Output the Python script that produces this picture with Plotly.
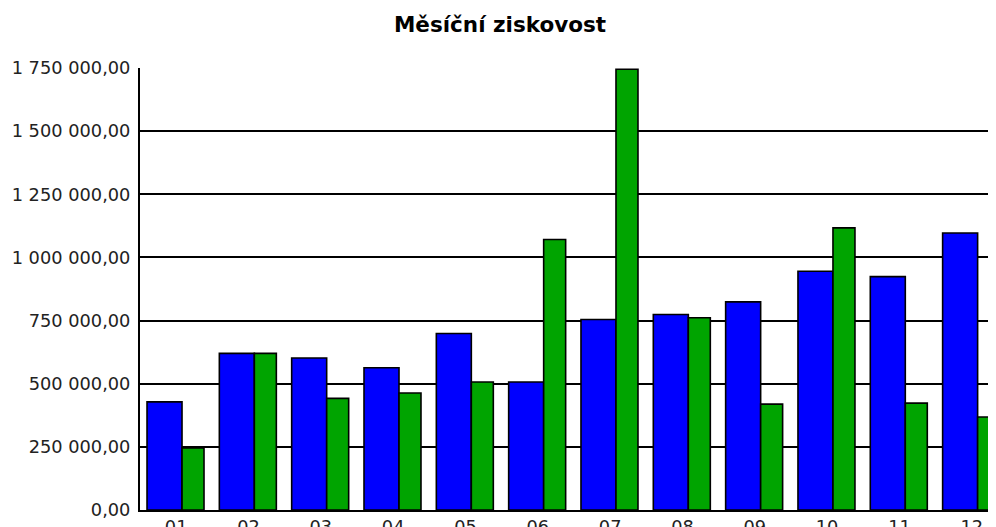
import plotly.graph_objects as go

months = ["01", "02", "03", "04", "05", "06", "07", "08", "09", "10", "11", "12"]
blue_vals = [428000, 620000, 602000, 563000, 699000, 507000, 754000, 774000, 824000, 945000, 924000, 1097000]
green_vals = [246000, 620000, 442000, 463000, 507000, 1071000, 1745000, 761000, 419000, 1117000, 423000, 368000]
y_tickvals = [0, 250000, 500000, 750000, 1000000, 1250000, 1500000, 1750000]
y_ticktext = ["0,00", "250 000,00", "500 000,00", "750 000,00", "1 000 000,00",
              "1 250 000,00", "1 500 000,00", "1 750 000,00"]
title_text = "Měsíční ziskovost"

xs = list(range(len(months)))

fig = go.Figure()
fig.add_trace(go.Bar(x=xs, y=blue_vals, offset=-0.403, width=0.484,
                     marker=dict(color="#0000FF", line=dict(color="black", width=1.6))))
fig.add_trace(go.Bar(x=xs, y=green_vals, offset=0.081, width=0.304,
                     marker=dict(color="#00A400", line=dict(color="black", width=1.6))))

W, H = 988, 519
fig.update_layout(
    width=W, height=H,
    margin=dict(l=132, r=0, t=60, b=17),
    paper_bgcolor="white", plot_bgcolor="white",
    barmode="overlay", showlegend=False,
    title=dict(text="<b>" + title_text + "</b>", x=492 / W, xanchor="center",
               y=1 - 16 / H, yanchor="middle",
               font=dict(family="DejaVu Sans", size=21.5, color="black")),
    font=dict(family="DejaVu Sans", size=17.8, color="#222222"),
)
fig.update_xaxes(range=[-0.5, 11.335], tickvals=xs, ticktext=months,
                 showline=True, linecolor="black", linewidth=2, showgrid=False,
                 ticks="", zeroline=False, fixedrange=True, automargin=False,
                 ticklabelstandoff=0)
fig.update_yaxes(range=[0, 1750000], tickvals=y_tickvals, ticktext=y_ticktext,
                 showline=True, linecolor="black", linewidth=2,
                 showgrid=True, gridcolor="black", gridwidth=1.5,
                 ticks="", zeroline=False, ticklabelstandoff=4, fixedrange=True,
                 automargin=False)

fig.write_html("out.html")
